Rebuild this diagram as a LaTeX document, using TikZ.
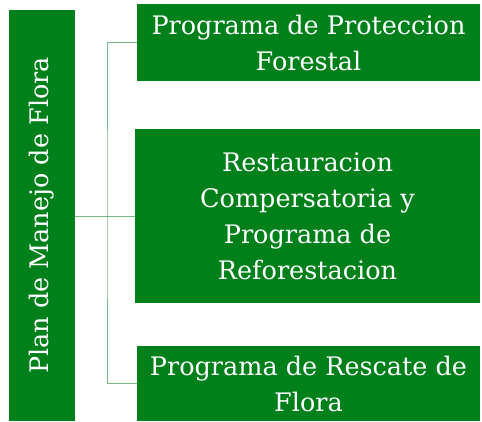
\documentclass[tikz,border=0pt]{standalone}
\usepackage{fontspec}
\setmainfont{DejaVu Serif}
\usepackage{xcolor}
\usetikzlibrary{positioning, calc}
\definecolor{flora}{RGB}{0,128,26}

\begin{document}
\begin{tikzpicture}[x=1pt, y=-1pt,
    box/.style={fill=flora, text=white, inner sep=0pt, align=center,
      font=\fontsize{25.5}{36}\selectfont},
    link/.style={draw=flora!55, line width=1pt}]
  \useasboundingbox (0,0) rectangle (482,421);

  %% Root box, text turned upright
  \node[box, rotate=90, minimum width=411, minimum height=66]
    (plan) at (42,215.5) {Plan de Manejo de Flora};

  %% Program boxes
  \node[box, minimum width=343, minimum height=77]
    (prot) at (308.5,42.5) {Programa de Proteccion\\Forestal};
  \node[box, minimum width=345, minimum height=174]
    (rest) at (307.5,216) {Restauracion\\Compersatoria y\\Programa de\\Reforestacion};
  \node[box, minimum width=343, minimum height=75]
    (resc) at (308.5,383.5) {Programa de Rescate de\\Flora};

  %% Connectors
  \coordinate (jn) at (107,216);
  \draw[link] (plan.south |- rest.west) -- (rest.west);
  \draw[link] (prot.west) -| (jn) |- (resc.west);
\end{tikzpicture}
\end{document}
